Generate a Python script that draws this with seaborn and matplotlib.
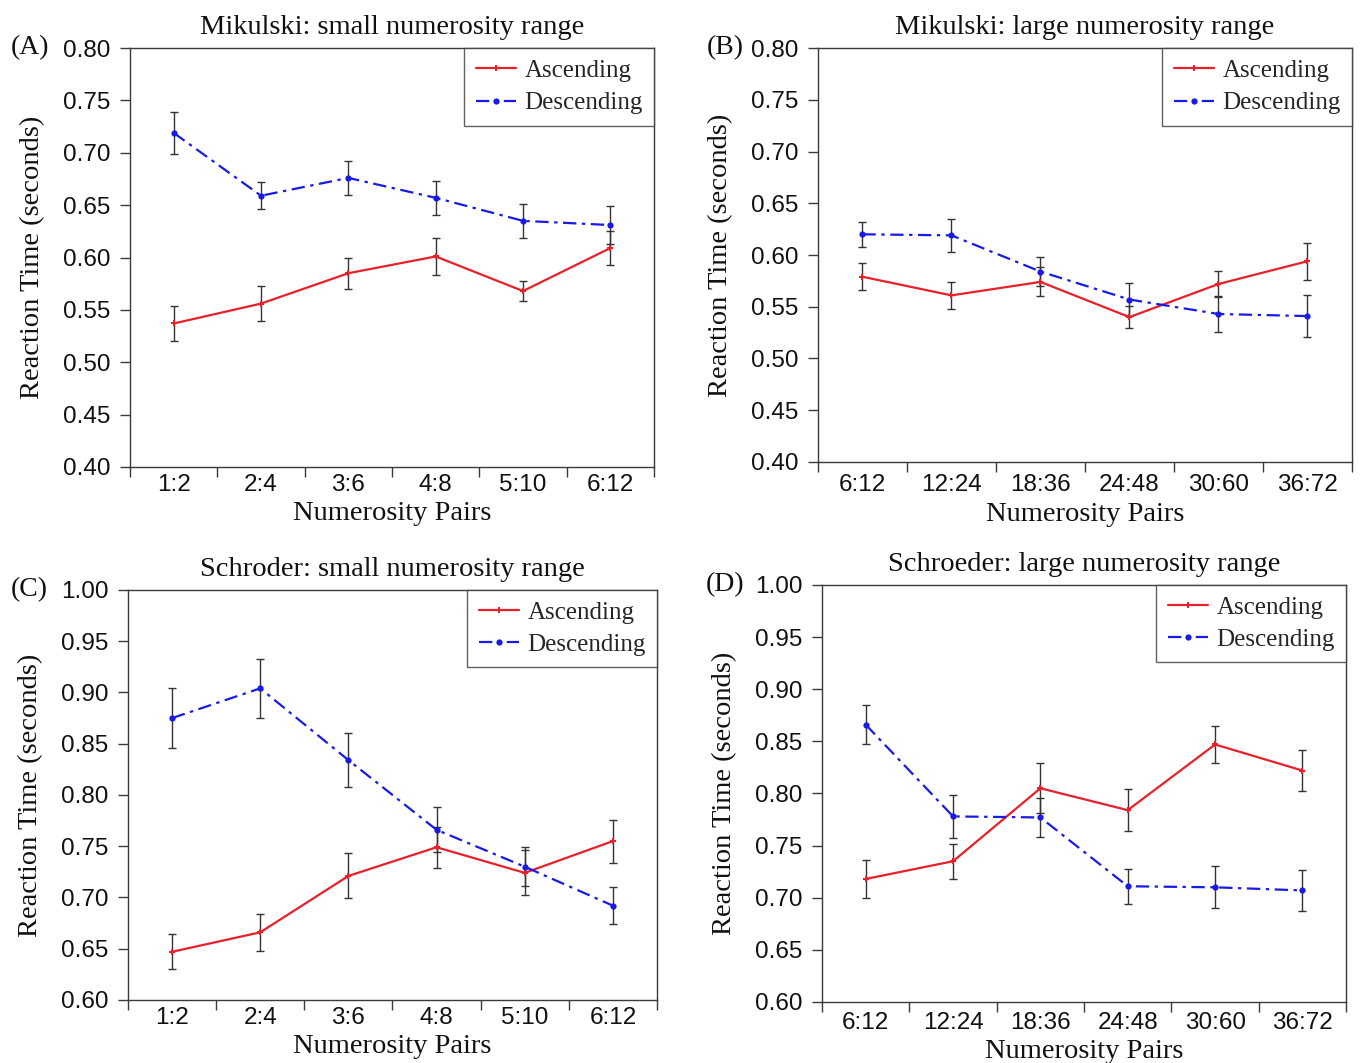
import numpy as np
import pandas as pd
import matplotlib
matplotlib.use("Agg")
import matplotlib.pyplot as plt
import seaborn as sns
from matplotlib.ticker import FixedLocator, FormatStrFormatter

# --- data ---
small_pairs = ["1:2", "2:4", "3:6", "4:8", "5:10", "6:12"]
large_pairs = ["6:12", "12:24", "18:36", "24:48", "30:60", "36:72"]

a_asc = [0.537, 0.556, 0.585, 0.601, 0.568, 0.609]
a_asc_err = [0.017, 0.017, 0.015, 0.018, 0.010, 0.016]
a_desc = [0.719, 0.659, 0.676, 0.657, 0.635, 0.631]
a_desc_err = [0.020, 0.013, 0.016, 0.016, 0.016, 0.018]

b_asc = [0.579, 0.561, 0.574, 0.540, 0.572, 0.594]
b_asc_err = [0.013, 0.013, 0.014, 0.011, 0.013, 0.018]
b_desc = [0.620, 0.619, 0.584, 0.557, 0.543, 0.541]
b_desc_err = [0.012, 0.016, 0.014, 0.016, 0.017, 0.020]

c_asc = [0.647, 0.666, 0.721, 0.749, 0.724, 0.755]
c_asc_err = [0.017, 0.018, 0.022, 0.020, 0.022, 0.021]
c_desc = [0.875, 0.904, 0.834, 0.766, 0.730, 0.692]
c_desc_err = [0.029, 0.029, 0.026, 0.022, 0.019, 0.018]

d_asc = [0.718, 0.735, 0.805, 0.784, 0.847, 0.822]
d_asc_err = [0.018, 0.017, 0.024, 0.020, 0.018, 0.020]
d_desc = [0.866, 0.778, 0.777, 0.711, 0.710, 0.707]
d_desc_err = [0.019, 0.021, 0.019, 0.017, 0.020, 0.020]

panels = [
    ("(A)", "Mikulski: small numerosity range", small_pairs, a_asc, a_asc_err, a_desc, a_desc_err, (0.40, 0.80)),
    ("(B)", "Mikulski: large numerosity range", large_pairs, b_asc, b_asc_err, b_desc, b_desc_err, (0.40, 0.80)),
    ("(C)", "Schroder: small numerosity range", small_pairs, c_asc, c_asc_err, c_desc, c_desc_err, (0.60, 1.00)),
    ("(D)", "Schroeder: large numerosity range", large_pairs, d_asc, d_asc_err, d_desc, d_desc_err, (0.60, 1.00)),
]

# axes boxes in figure fractions [left, bottom, width, height]
boxes = [
    [0.0954, 0.5607, 0.3844, 0.3941],
    [0.6001, 0.5654, 0.3918, 0.3894],
    [0.0939, 0.0593, 0.3881, 0.3857],
    [0.6031, 0.0574, 0.3845, 0.3923],
]
label_off = [-100, -93, -99, -97]  # panel letter offset, px
xpad = [5, 9, 5, 7]

sns.set_theme(style="ticks")
plt.rcParams["font.family"] = ["Liberation Sans", "DejaVu Sans"]
serif = ["Liberation Serif", "DejaVu Serif"]

RED = "#e8202a"
BLUE = "#1a1ae6"
EDGE = "#3a3a3a"
TXT = "#111111"

fig = plt.figure(figsize=(13.63, 10.63), dpi=100)

for (tag, title, pairs, asc, asc_err, desc, desc_err, ylim), box, off, xp in zip(panels, boxes, label_off, xpad):
    ax = fig.add_axes(box)
    pos = np.arange(len(pairs))
    df = pd.DataFrame({
        "pos": np.concatenate([pos, pos]),
        "rt": asc + desc,
        "order": ["Ascending"] * len(asc) + ["Descending"] * len(desc),
    })

    # error bars first so lines sit on top
    ax.errorbar(pos, asc, yerr=asc_err, fmt="none", ecolor="#333333", elinewidth=1, capsize=3, capthick=1)
    ax.errorbar(pos, desc, yerr=desc_err, fmt="none", ecolor="#333333", elinewidth=1, capsize=3, capthick=1)

    sns.lineplot(data=df, x="pos", y="rt", hue="order", style="order",
                 palette={"Ascending": RED, "Descending": BLUE},
                 dashes={"Ascending": "", "Descending": (6, 2.5, 1.5, 2.5)},
                 markers={"Ascending": "P", "Descending": "o"},
                 markersize=4.5, markeredgewidth=0, linewidth=1.6,
                 errorbar=None, ax=ax)

    ax.set_xlim(-0.5, len(pairs) - 0.5)
    ax.set_ylim(*ylim)
    ax.yaxis.set_major_locator(FixedLocator(np.round(np.arange(ylim[0], ylim[1] + 0.001, 0.05), 2)))
    ax.yaxis.set_major_formatter(FormatStrFormatter("%.2f"))

    # ticks between categories, labels centred
    ax.xaxis.set_major_locator(FixedLocator(np.arange(-0.5, len(pairs), 1.0)))
    ax.xaxis.set_major_formatter(plt.NullFormatter())
    ax.set_xticks(pos, minor=True)
    ax.set_xticklabels(pairs, minor=True)
    ax.tick_params(axis="x", which="minor", length=0, pad=xp, labelsize=17.5, colors=TXT)
    ax.tick_params(axis="x", which="major", length=7, width=1, color=EDGE, direction="out")
    ax.tick_params(axis="y", length=7, width=1, color=EDGE, direction="out", pad=7,
                   labelsize=17.5, labelcolor=TXT)

    for sp in ax.spines.values():
        sp.set_color(EDGE)
        sp.set_linewidth(1)
        sp.set_visible(True)

    ax.set_title(title, family=serif, fontsize=20.5, pad=10, color=TXT)
    ax.set_xlabel("Numerosity Pairs", family=serif, fontsize=20.5, labelpad=4, color=TXT)
    ax.set_ylabel("Reaction Time (seconds)", family=serif, fontsize=20.5, labelpad=13, color=TXT)

    ax.annotate(tag, xy=(0, 1), xycoords="axes fraction", xytext=(off * 0.72, 0),
                textcoords="offset points", ha="center", va="center",
                family=serif, fontsize=20, color=TXT)

    old = ax.get_legend()
    handles = old.legend_handles
    labels = [t.get_text() for t in old.texts]
    leg = ax.legend(handles, labels, loc="upper right", borderaxespad=0, frameon=True,
                    fancybox=False, edgecolor=EDGE, handlelength=1.6, handletextpad=0.35,
                    borderpad=0.45, labelspacing=0.4, prop={"family": serif, "size": 18})
    leg.get_frame().set_linewidth(1)

fig.savefig("out.png", dpi=100, facecolor="white")
